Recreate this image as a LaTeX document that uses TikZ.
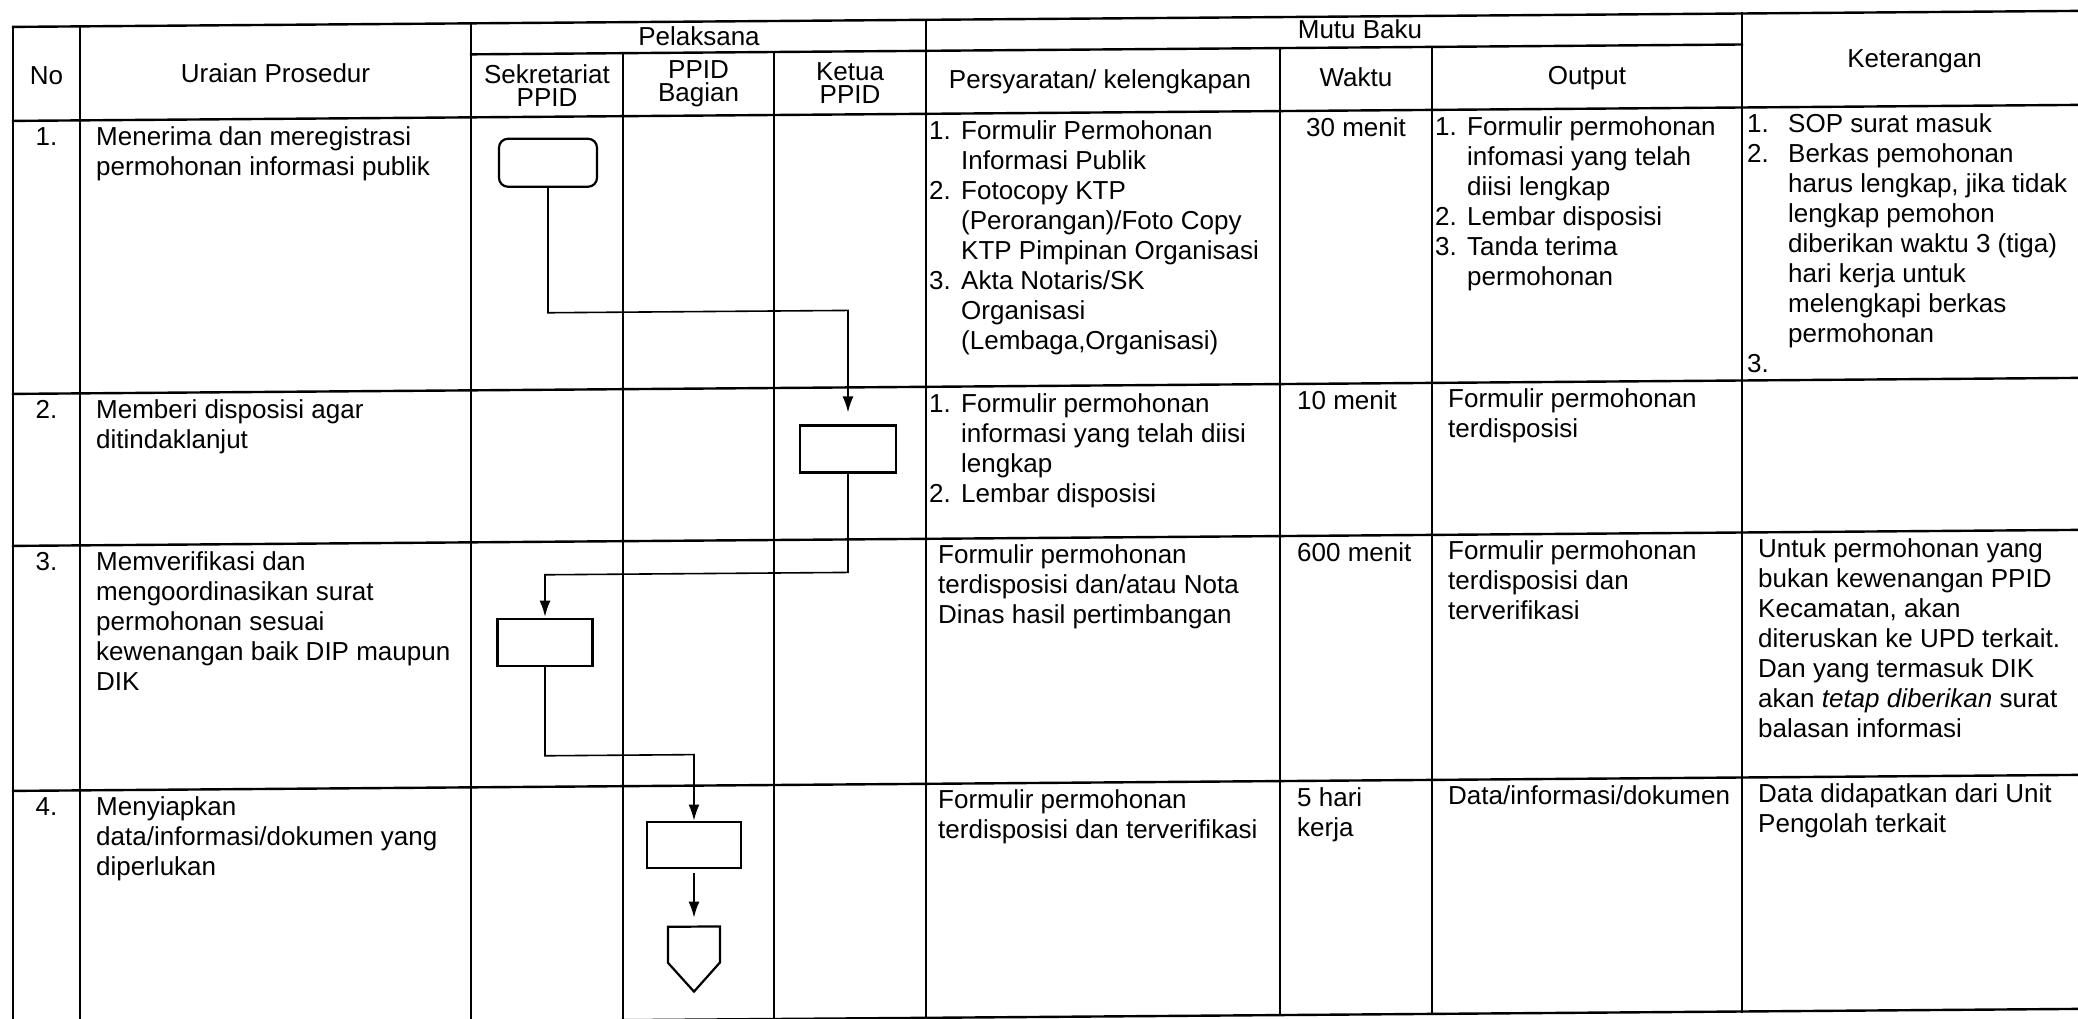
\documentclass[tikz,border=0pt]{standalone}
\usepackage{fontspec}
\setmainfont{Liberation Sans}
\usetikzlibrary{arrows.meta}
\newcommand\tstrut{\rule{0pt}{25pt}}
\newcommand\itm[1]{\makebox[32pt][l]{#1}}
\newcommand\cind{\hspace*{32pt}}
\newcommand\itmk[1]{\makebox[41pt][l]{#1}}
\newcommand\kind{\hspace*{41pt}}
\begin{document}
\begin{tikzpicture}[x=1pt,y=-1pt,
  gridline/.style={line width=2.4pt, line cap=rect},
  hdr/.style={inner sep=0pt, anchor=base, font=\fontsize{26}{30}\selectfont},
  hdrtwo/.style={inner sep=0pt, anchor=center, align=center, font=\fontsize{26}{23}\selectfont},
  cell/.style={inner sep=0pt, anchor=north west, align=left, font=\fontsize{26}{30}\selectfont},
  num/.style={inner sep=0pt, anchor=base, font=\fontsize{26}{30}\selectfont},
  proc/.style={draw, line width=2.2pt, inner sep=0pt},
  conn/.style={line width=1.6pt, -{Latex[length=16pt,width=11pt]}},
]
\useasboundingbox (0,0) rectangle (2078,1019);
\fill[white] (0,0) rectangle (2078,1019);
\clip (0,0) rectangle (2078,1019);
\begin{scope}[yslant=0.00775]
% grid
\draw[gridline] (13,27) -- (2087,27);
\draw[gridline] (471,58) -- (1742,58);
\foreach \yy in {121,394,546,791,1025} \draw[gridline] (13,\yy) -- (2087,\yy);
\foreach \xx in {13,80,471,926,1742,2087} \draw[gridline] (\xx,27) -- (\xx,1025);
\foreach \xx in {623,774,1280,1432} \draw[gridline] (\xx,58) -- (\xx,1025);
% headers
\node[hdr] (hNo) at (46.5,85) {No};
\node[hdr] (hUr) at (275.5,85) {Uraian Prosedur};
\node[hdr] (hPel) at (699,51) {Pelaksana};
\node[hdrtwo] (hSek) at (547,89.5) {Sekretariat\\PPID};
\node[hdrtwo] (hPB) at (698.5,89.5) {PPID\\Bagian};
\node[hdrtwo] (hKt) at (850,89.5) {Ketua\\PPID};
\node[hdr] (hMB) at (1360,49) {Mutu Baku};
\node[hdr] (hPer) at (1100,97) {Persyaratan/ kelengkapan};
\node[hdr] (hWak) at (1356,97) {Waktu};
\node[hdr] (hOut) at (1587,97) {Output};
\node[hdr] (hKeter) at (1914.5,82) {Keterangan};
% row 1
\node[num] (n1) at (46.5,146) {1.};
\node[cell] (u1) at (96,121) {\tstrut Menerima dan meregistrasi\\permohonan informasi publik};
\node[cell] (p1) at (929,121) {\tstrut\itm{1.}Formulir Permohonan\\\cind Informasi Publik\\\itm{2.}Fotocopy KTP\\\cind (Perorangan)/Foto Copy\\\cind KTP Pimpinan Organisasi\\\itm{3.}Akta Notaris/SK\\\cind Organisasi\\\cind (Lembaga,Organisasi)};
\node[cell] (w1) at (1306,121) {\tstrut 30 menit};
\node[cell] (o1) at (1435,121) {\tstrut\itm{1.}Formulir permohonan\\\cind infomasi yang telah\\\cind diisi lengkap\\\itm{2.}Lembar disposisi\\\itm{3.}Tanda terima\\\cind permohonan};
\node[cell] (k1) at (1747,121) {\tstrut\itmk{1.}SOP surat masuk\\\itmk{2.}Berkas pemohonan\\\kind harus lengkap, jika tidak\\\kind lengkap pemohon\\\kind diberikan waktu 3 (tiga)\\\kind hari kerja untuk\\\kind melengkapi berkas\\\kind permohonan\\\itmk{3.}};
% row 2
\node[num] (n2) at (46.5,419) {2.};
\node[cell] (u2) at (96,394) {\tstrut Memberi disposisi agar\\ditindaklanjut};
\node[cell] (p2) at (929,394) {\tstrut\itm{1.}Formulir permohonan\\\cind informasi yang telah diisi\\\cind lengkap\\\itm{2.}Lembar disposisi};
\node[cell] (w2) at (1297,394) {\tstrut 10 menit};
\node[cell] (o2) at (1448,394) {\tstrut Formulir permohonan\\terdisposisi};
% row 3
\node[num] (n3) at (46.5,571) {3.};
\node[cell] (u3) at (96,546) {\tstrut Memverifikasi dan\\mengoordinasikan surat\\permohonan sesuai\\kewenangan baik DIP maupun\\DIK};
\node[cell] (p3) at (938,546) {\tstrut Formulir permohonan\\terdisposisi dan/atau Nota\\Dinas hasil pertimbangan};
\node[cell] (w3) at (1297,546) {\tstrut 600 menit};
\node[cell] (o3) at (1448,546) {\tstrut Formulir permohonan\\terdisposisi dan\\terverifikasi};
\node[cell] (k3) at (1758,546) {\tstrut Untuk permohonan yang\\bukan kewenangan PPID\\Kecamatan, akan\\diteruskan ke UPD terkait.\\Dan yang termasuk DIK\\akan \textit{tetap diberikan} surat\\balasan informasi};
% row 4
\node[num] (n4) at (46.5,816) {4.};
\node[cell] (u4) at (96,791) {\tstrut Menyiapkan\\data/informasi/dokumen yang\\diperlukan};
\node[cell] (p4) at (938,791) {\tstrut Formulir permohonan\\terdisposisi dan terverifikasi};
\node[cell] (w4) at (1297,791) {\tstrut 5 hari\\kerja};
\node[cell] (o4) at (1448,791) {\tstrut Data/informasi/dokumen};
\node[cell] (k4) at (1758,791) {\tstrut Data didapatkan dari Unit\\Pengolah terkait};
% flowchart
\node[proc, rounded corners=9pt, minimum width=98pt, minimum height=48pt] (fa) at (548,167) {};
\node[proc, minimum width=96pt, minimum height=47pt] (fb) at (848,455.5) {};
\node[proc, minimum width=95pt, minimum height=47pt] (fc) at (545,646.5) {};
\node[proc, minimum width=94pt, minimum height=46pt] (fd) at (694,850) {};
\coordinate (m1) at (700,317);
\coordinate (m2) at (700,579);
\coordinate (m3) at (620,760);
\coordinate (fe) at (694,932);
\draw[line width=2.2pt, line join=miter] (fe) ++(-26,0) -- ++(52,0) -- ++(0,36) -- ++(-26,29) -- ++(-26,-29) -- cycle;
\draw[conn, shorten >=12pt] (fa.south) |- (m1) -| (fb.north);
\draw[conn, shorten >=1pt] (fb.south) |- (m2) -| (fc.north);
\draw[conn] (fc.south) |- (m3) -| (fd.north);
\draw[conn, shorten <=4pt, shorten >=9pt] (fd.south) -- (fe);
\end{scope}
\end{tikzpicture}
\end{document}
